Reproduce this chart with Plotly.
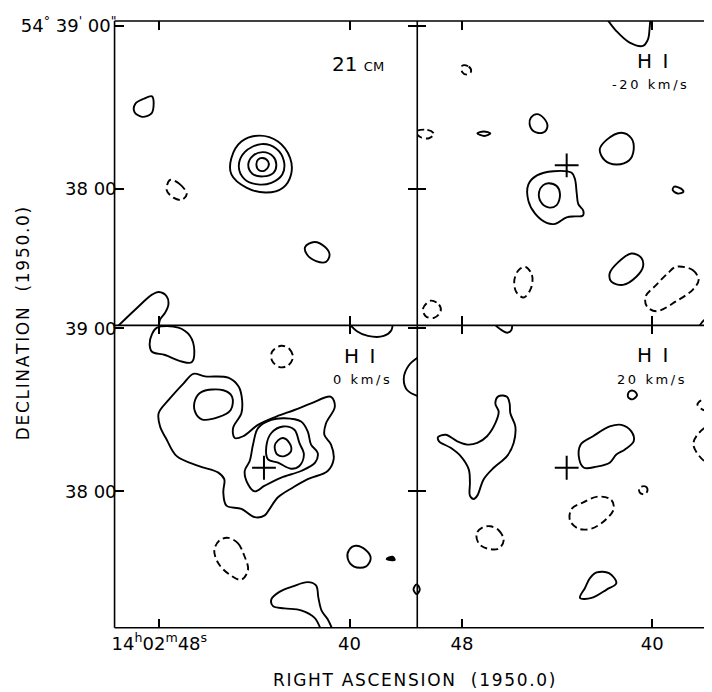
import plotly.graph_objects as go

# ---------------- axis values: RA in seconds of 14h02m, Dec in arcmin of +54 deg ----------------
ra_ticks = [48, 40]
dec_ticks = [38, 39]
ra_text_left = ["14<sup>h</sup>02<sup>m</sup>48<sup>s</sup>", "40"]
ra_text_right = ["48", "40"]
dec_text_top = ["38 00", "54<sup>°</sup> 39<sup>'</sup> 00<sup>\"</sup>"]
dec_text_bottom = ["38 00", "39 00"]
panel_titles = ["21 <span style='font-size:13px'>CM</span>", "H I", "H I", "H I"]
panel_velocities = ["", "-20 km/s", "0 km/s", "20 km/s"]
x_title = "RIGHT ASCENSION  (1950.0)"
y_title = "DECLINATION  (1950.0)"
source_ra = [43.60]
source_dec = [38.145]

# ---------------- contours (RA s, Dec arcmin) ----------------
# Panel A : 21 cm continuum
a1_ra = [48.66, 48.31, 48.24, 48.34, 48.73, 49.05, 49.01]
a1_dec = [38.553, 38.568, 38.523, 38.462, 38.442, 38.473, 38.523]
a2_ra = [43.78, 43.01, 42.50, 42.46, 42.80, 43.50, 44.34, 44.97, 44.97, 44.55]
a2_dec = [38.327, 38.291, 38.190, 38.089, 38.008, 37.978, 38.008, 38.089, 38.190, 38.291]
a3_ra = [43.71, 43.08, 42.76, 42.83, 43.29, 43.85, 44.41, 44.66, 44.41]
a3_dec = [38.275, 38.247, 38.170, 38.089, 38.038, 38.028, 38.059, 38.139, 38.226]
a4_ra = [43.64, 43.22, 43.08, 43.20, 43.64, 44.09, 44.26, 44.06]
a4_dec = [38.226, 38.200, 38.150, 38.099, 38.077, 38.093, 38.150, 38.204]
a5_ra = [43.67, 43.43, 43.41, 43.57, 43.81, 43.92, 43.85]
a5_dec = [38.190, 38.170, 38.139, 38.113, 38.115, 38.150, 38.180]
a6_ra = [41.48, 41.03, 40.84, 40.99, 41.41, 41.79, 41.87]
a6_dec = [37.675, 37.644, 37.598, 37.553, 37.558, 37.598, 37.644]
a7_ra = [49.95, 49.01, 48.31, 48.03, 47.69, 47.62, 47.76, 47.97, 48.03]
a7_dec = [37.130, 37.261, 37.352, 37.368, 37.341, 37.291, 37.241, 37.200, 37.150]
ad1_ra = [47.55, 47.13, 46.85, 47.06, 47.41, 47.69]
ad1_dec = [38.055, 38.028, 37.968, 37.933, 37.947, 37.992]

# Panel B : HI -20 km/s
b1_ra = [41.92, 41.51, 40.95, 40.39, 40.18, 40.11, 40.08]
b1_dec = [39.045, 38.968, 38.897, 38.877, 38.917, 38.988, 39.045]
b2_ra = [47.36, 47.09, 46.81, 47.06]
b2_dec = [38.341, 38.352, 38.341, 38.325]
b3_ra = [44.85, 44.55, 44.41, 44.60, 44.97, 45.16, 45.10]
b3_dec = [38.459, 38.432, 38.382, 38.345, 38.352, 38.398, 38.438]
b4_ra = [41.30, 40.88, 40.78, 40.98, 41.51, 42.00, 42.21, 41.92]
b4_dec = [38.345, 38.311, 38.241, 38.174, 38.150, 38.176, 38.241, 38.301]
b5_ra = [39.07, 38.79, 38.69, 38.93, 39.14]
b5_dec = [38.014, 38.002, 37.982, 37.972, 37.994]
b6_ra = [44.16, 43.39, 43.25, 43.18, 43.11, 42.90, 42.93, 43.25, 43.60, 44.09, 44.44, 44.92, 45.21, 45.21, 44.85]
b6_dec = [38.109, 38.099, 38.059, 37.978, 37.907, 37.867, 37.836, 37.832, 37.826, 37.786, 37.792, 37.847, 37.927, 38.028, 38.083]
b7_ra = [44.37, 44.02, 43.88, 44.02, 44.37, 44.69, 44.76, 44.60]
b7_dec = [38.035, 38.018, 37.968, 37.901, 37.887, 37.921, 37.982, 38.022]
b8_ra = [40.88, 40.46, 40.39, 40.67, 41.23, 41.72, 41.79, 41.44]
b8_dec = [37.604, 37.578, 37.523, 37.462, 37.412, 37.432, 37.483, 37.550]
b9_ra = [38.06, 37.81, 37.52, 37.10]
b9_dec = [37.150, 37.197, 37.212, 37.224]
bd1_ra = [47.99, 47.72, 47.62, 47.78, 47.99]
bd1_dec = [38.756, 38.750, 38.721, 38.701, 38.715]
bd2_ra = [49.95, 49.46, 49.18, 49.39, 49.74]
bd2_dec = [38.352, 38.362, 38.338, 38.311, 38.317]
bd3_ra = [39.00, 38.30, 38.05, 38.30, 39.00, 39.83, 40.23, 40.28, 39.83, 39.35]
bd3_dec = [37.523, 37.503, 37.442, 37.382, 37.311, 37.250, 37.281, 37.341, 37.412, 37.483]
bd4_ra = [45.34, 45.06, 45.10, 45.41, 45.72, 45.80, 45.62]
bd4_dec = [37.523, 37.473, 37.392, 37.335, 37.368, 37.442, 37.503]
bd5_ra = [49.32, 48.97, 48.90, 49.18, 49.53, 49.64]
bd5_dec = [37.315, 37.291, 37.250, 37.210, 37.220, 37.267]

# Panel C : HI 0 km/s
c1_ra = [48.31, 48.10, 47.20, 46.71, 46.53, 46.64, 47.06, 47.76, 48.31, 48.41]
c1_dec = [38.964, 39.004, 39.004, 38.953, 38.862, 38.792, 38.796, 38.836, 38.856, 38.903]
c2_ra = [40.03, 39.69, 39.23, 38.56, 38.24, 38.19]
c2_dec = [39.030, 38.982, 38.953, 38.953, 38.988, 39.030]
c3_ra = [36.97, 37.51, 37.72, 37.57, 36.97]
c3_dec = [38.836, 38.772, 38.691, 38.620, 38.576]
c4_ra = [46.57, 46.08, 45.10, 44.66, 44.52, 44.55, 44.90, 44.83, 44.48, 43.85, 43.08, 42.32, 41.62,
         40.78, 40.62, 40.99, 41.06, 40.78, 40.67, 40.92, 41.76, 42.38, 43.01, 43.36, 43.57, 43.99,
         44.55, 45.18, 45.31, 45.27, 45.52, 46.36, 47.27, 47.69, 47.97, 48.03, 47.62, 46.99]
c4_dec = [38.721, 38.705, 38.697, 38.641, 38.559, 38.479, 38.388, 38.327, 38.338, 38.408, 38.459, 38.499,
          38.539, 38.580, 38.519, 38.418, 38.347, 38.287, 38.196, 38.125, 38.075, 38.024, 37.964, 37.893,
          37.853, 37.842, 37.893, 37.913, 37.994, 38.075, 38.115, 38.156, 38.216, 38.317, 38.398, 38.479,
          38.559, 38.661]
c5_ra = [46.22, 45.31, 44.94, 45.00, 45.52, 46.22, 46.50, 46.50]
c5_dec = [38.610, 38.620, 38.580, 38.499, 38.455, 38.442, 38.489, 38.559]
c6_ra = [42.74, 42.04, 41.76, 41.62, 41.34, 41.45, 42.04, 42.87, 43.57, 43.99, 44.27, 44.41, 44.20, 44.06, 43.85, 43.29]
c6_dec = [38.448, 38.428, 38.368, 38.287, 38.236, 38.176, 38.125, 38.085, 38.035, 38.000, 38.044, 38.125, 38.186, 38.287, 38.388, 38.438]
c7_ra = [42.80, 42.32, 42.11, 41.92, 42.11, 42.46, 43.01, 43.43, 43.50, 43.29]
c7_dec = [38.398, 38.378, 38.297, 38.226, 38.156, 38.139, 38.176, 38.196, 38.277, 38.358]
c8_ra = [42.80, 42.53, 42.46, 42.74, 43.04, 43.15, 43.01]
c8_dec = [38.327, 38.297, 38.247, 38.216, 38.226, 38.277, 38.313]
c9_ra = [39.74, 39.32, 39.11, 39.32, 39.81, 40.08, 40.02]
c9_dec = [37.667, 37.641, 37.590, 37.539, 37.539, 37.590, 37.641]
c10_ra = [38.44, 38.19, 38.10]
c10_dec = [37.585, 37.600, 37.579]
c11_ra = [37.18, 37.31, 37.18, 37.06]
c11_dec = [37.430, 37.400, 37.370, 37.400]
c12_ra = [41.20, 41.48, 42.04, 42.74, 43.22, 43.29, 42.95, 42.38, 41.76, 41.41, 41.31, 41.17, 40.92, 40.71]
c12_dec = [37.150, 37.226, 37.271, 37.283, 37.297, 37.338, 37.384, 37.418, 37.444, 37.424, 37.347, 37.267, 37.216, 37.150]
cd1_ra = [42.87, 42.53, 42.38, 42.59, 42.95, 43.26, 43.26]
cd1_dec = [38.893, 38.873, 38.822, 38.772, 38.762, 38.802, 38.856]
cd2_ra = [45.10, 44.69, 44.44, 44.27, 44.55, 45.04, 45.52, 45.69, 45.46]
cd2_dec = [37.715, 37.681, 37.610, 37.519, 37.459, 37.489, 37.559, 37.641, 37.701]

# Panel D : HI +20 km/s
d1_ra = [46.68, 46.39, 46.10, 45.93, 45.89]
d1_dec = [39.030, 38.994, 38.973, 38.988, 39.030]
d2_ra = [46.46, 46.11, 46.00, 45.97, 45.76, 45.83, 46.11, 46.67, 47.09, 47.36, 47.51, 47.67, 47.67,
         47.72, 48.06, 48.48, 48.97, 49.01, 48.69, 48.20, 47.78, 47.36, 46.95, 46.60, 46.46, 46.60]
d2_dec = [38.584, 38.580, 38.539, 38.479, 38.398, 38.297, 38.216, 38.145, 38.075, 37.974, 37.953, 37.974,
          38.055, 38.135, 38.216, 38.267, 38.307, 38.333, 38.347, 38.307, 38.287, 38.297, 38.338, 38.418,
          38.489, 38.539]
d3_ra = [41.30, 40.88, 40.78, 41.16, 41.51, 41.79, 42.34, 42.87, 43.07, 43.01, 42.49, 41.79]
d3_dec = [38.408, 38.368, 38.307, 38.256, 38.226, 38.176, 38.152, 38.145, 38.196, 38.287, 38.338, 38.398]
d4_ra = [40.98, 40.78, 40.64, 40.84, 41.02]
d4_dec = [38.610, 38.616, 38.590, 38.564, 38.580]
d5_ra = [42.34, 41.82, 41.51, 41.92, 42.55, 43.04, 42.83, 42.62]
d5_dec = [37.503, 37.499, 37.438, 37.398, 37.347, 37.347, 37.408, 37.468]
d6_ra = [49.90, 50.03, 49.90, 49.78]
d6_dec = [37.430, 37.400, 37.370, 37.400]
dd1_ra = [40.53, 40.28, 40.20, 40.32, 40.53]
dd1_dec = [38.024, 38.030, 38.006, 37.982, 37.994]
dd2_ra = [42.28, 41.72, 41.62, 41.92, 42.55, 43.11, 43.46, 43.39, 42.90]
dd2_dec = [37.968, 37.947, 37.893, 37.832, 37.772, 37.772, 37.822, 37.893, 37.933]
dd3_ra = [46.81, 46.46, 46.25, 46.46, 46.95, 47.30, 47.39, 47.15]
dd3_dec = [37.786, 37.762, 37.701, 37.650, 37.650, 37.681, 37.741, 37.778]
dd4_ra = [38.10, 37.81, 37.35, 36.93, 37.27, 37.81]
dd4_dec = [38.533, 38.570, 38.576, 38.539, 38.497, 38.497]
dd5_ra = [37.10, 37.81, 38.27, 37.73, 37.10, 36.56]
dd5_dec = [38.418, 38.388, 38.291, 38.176, 38.152, 38.285]

# ---------------- figure ----------------
FONT = "DejaVu Sans"
LW = 1.9
HAIR = "\u200a"
THIN = "\u2009"


def spaced(s, sep):
    return sep.join(s)


fig = go.Figure()
panels = {"A": ("x", "y"), "B": ("x2", "y2"), "C": ("x3", "y3"), "D": ("x4", "y4")}


def contour(panel, ra, dec, dashed=False, closed=True, filled=False):
    xs, ys = list(ra), list(dec)
    if closed:
        xs.append(xs[0]); ys.append(ys[0])
    xa, ya = panels[panel]
    fig.add_trace(go.Scatter(
        x=xs, y=ys, xaxis=xa, yaxis=ya, mode="lines",
        line=dict(color="black", width=LW, shape="spline", smoothing=1.0,
                  dash="7px,4px" if dashed else "solid"),
        fill="toself" if filled else None, fillcolor="black" if filled else None,
        hoverinfo="skip", showlegend=False))


for r, d in [(a1_ra, a1_dec), (a2_ra, a2_dec), (a3_ra, a3_dec), (a4_ra, a4_dec), (a5_ra, a5_dec), (a6_ra, a6_dec)]:
    contour("A", r, d)
contour("A", a7_ra, a7_dec, closed=False)
contour("A", ad1_ra, ad1_dec, dashed=True)

for r, d in [(b2_ra, b2_dec), (b3_ra, b3_dec), (b4_ra, b4_dec), (b5_ra, b5_dec), (b6_ra, b6_dec),
             (b7_ra, b7_dec), (b8_ra, b8_dec)]:
    contour("B", r, d)
contour("B", b1_ra, b1_dec, closed=False)
contour("B", b9_ra, b9_dec, closed=False)
for r, d in [(bd1_ra, bd1_dec), (bd2_ra, bd2_dec), (bd3_ra, bd3_dec), (bd4_ra, bd4_dec), (bd5_ra, bd5_dec)]:
    contour("B", r, d, dashed=True)

for r, d in [(c1_ra, c1_dec), (c4_ra, c4_dec), (c5_ra, c5_dec), (c6_ra, c6_dec), (c7_ra, c7_dec),
             (c8_ra, c8_dec), (c9_ra, c9_dec), (c11_ra, c11_dec)]:
    contour("C", r, d)
contour("C", c10_ra, c10_dec, filled=True)
for r, d in [(c2_ra, c2_dec), (c3_ra, c3_dec), (c12_ra, c12_dec)]:
    contour("C", r, d, closed=False)
for r, d in [(cd1_ra, cd1_dec), (cd2_ra, cd2_dec)]:
    contour("C", r, d, dashed=True)

for r, d in [(d2_ra, d2_dec), (d3_ra, d3_dec), (d4_ra, d4_dec), (d5_ra, d5_dec), (d6_ra, d6_dec)]:
    contour("D", r, d)
contour("D", d1_ra, d1_dec, closed=False)
for r, d in [(dd1_ra, dd1_dec), (dd2_ra, dd2_dec), (dd3_ra, dd3_dec), (dd4_ra, dd4_dec), (dd5_ra, dd5_dec)]:
    contour("D", r, d, dashed=True)

for p in ["B", "C", "D"]:
    xa, ya = panels[p]
    fig.add_trace(go.Scatter(
        x=source_ra, y=source_dec, xaxis=xa, yaxis=ya, mode="markers",
        marker=dict(symbol="cross-thin", size=17, line=dict(color="black", width=2)),
        hoverinfo="skip", showlegend=False))

# the page has an 8 px body margin, so the figure is 8 px smaller than the window
OFF = 8
W, H = 712 - OFF, 692 - OFF


def px(x):
    return (x - OFF) / W


def py(y):
    return 1 - (y - OFF) / H


left_dom = [px(112), px(416)]
right_dom = [px(416), 1.0]
top_dom = [py(321), py(13)]
bot_dom = [py(627), py(321)]
ra_left = [49.885, 37.152]
ra_right = [49.885, 37.487]
dec_top = [37.164, 39.030]
dec_bot = [37.164, 39.018]

common = dict(ticks="inside", ticklen=9, tickwidth=1.6, tickcolor="black", showline=False,
              showgrid=False, zeroline=False, fixedrange=True,
              tickfont=dict(family=FONT, size=18, color="black"))


def xax(dom, rng, anchor, labels=None):
    d = dict(common, domain=dom, range=rng, anchor=anchor, tickvals=ra_ticks, mirror="ticks")
    if labels:
        d.update(ticktext=labels, showticklabels=True, ticklabelstandoff=3)
    else:
        d.update(showticklabels=False)
    return d


def yax(dom, rng, anchor, labels=None, mirror=True):
    d = dict(common, domain=dom, range=rng, anchor=anchor, tickvals=dec_ticks,
             mirror="ticks" if mirror else False)
    if labels:
        d.update(ticktext=labels, showticklabels=True, ticklabelstandoff=-3)
    else:
        d.update(showticklabels=False)
    return d


# panel borders (single lines so shared edges are not doubled)
BW = 1.6
borders = []
for yy in [13, 321, 627]:
    borders.append(dict(type="line", xref="paper", yref="paper", x0=px(112), x1=1.0, y0=py(yy), y1=py(yy),
                        line=dict(color="black", width=BW)))
for xx in [112, 416]:
    borders.append(dict(type="line", xref="paper", yref="paper", x0=px(xx), x1=px(xx), y0=py(13), y1=py(627),
                        line=dict(color="black", width=BW)))

fig.update_layout(
    width=W, height=H, margin=dict(l=0, r=0, t=0, b=0),
    paper_bgcolor="white", plot_bgcolor="white",
    xaxis=xax(left_dom, ra_left, "y"),
    yaxis=yax(top_dom, dec_top, "x", dec_text_top),
    xaxis2=xax(right_dom, ra_right, "y2"),
    yaxis2=yax(top_dom, dec_top, "x2", mirror=False),
    xaxis3=xax(left_dom, ra_left, "y3", ra_text_left),
    yaxis3=yax(bot_dom, dec_bot, "x3", dec_text_bottom),
    xaxis4=xax(right_dom, ra_right, "y4", ra_text_right),
    yaxis4=yax(bot_dom, dec_bot, "x4", mirror=False),
    shapes=borders,
)

label_pos = [("x", "y", 0.803, 0.860, 0.0, 0.0),
             ("x2", "y2", 0.797, 0.867, 0.787, 0.791),
             ("x3", "y3", 0.809, 0.897, 0.816, 0.820),
             ("x4", "y4", 0.797, 0.902, 0.794, 0.822)]
for (xa, ya, tx, ty, vx, vy), title, vel in zip(label_pos, panel_titles, panel_velocities):
    t = title.replace("H I", "H" + THIN + " I")
    fig.add_annotation(text=t, xref=f"{xa} domain", yref=f"{ya} domain", x=tx, y=ty,
                       xanchor="center", yanchor="middle", showarrow=False,
                       font=dict(family=FONT, size=20, color="black"))
    if vel:
        fig.add_annotation(text=spaced(vel, THIN), xref=f"{xa} domain", yref=f"{ya} domain", x=vx, y=vy,
                           xanchor="center", yanchor="middle", showarrow=False,
                           font=dict(family=FONT, size=13, color="black"))

fig.add_annotation(text=spaced(x_title, HAIR), xref="paper", yref="paper",
                   x=px(413), y=py(680), xanchor="center", yanchor="middle", showarrow=False,
                   font=dict(family=FONT, size=17, color="black"))
fig.add_annotation(text=spaced(y_title, HAIR), xref="paper", yref="paper",
                   x=px(20), y=py(319), xanchor="center", yanchor="middle", textangle=-90, showarrow=False,
                   font=dict(family=FONT, size=17, color="black"))

fig.write_html("out.html")
